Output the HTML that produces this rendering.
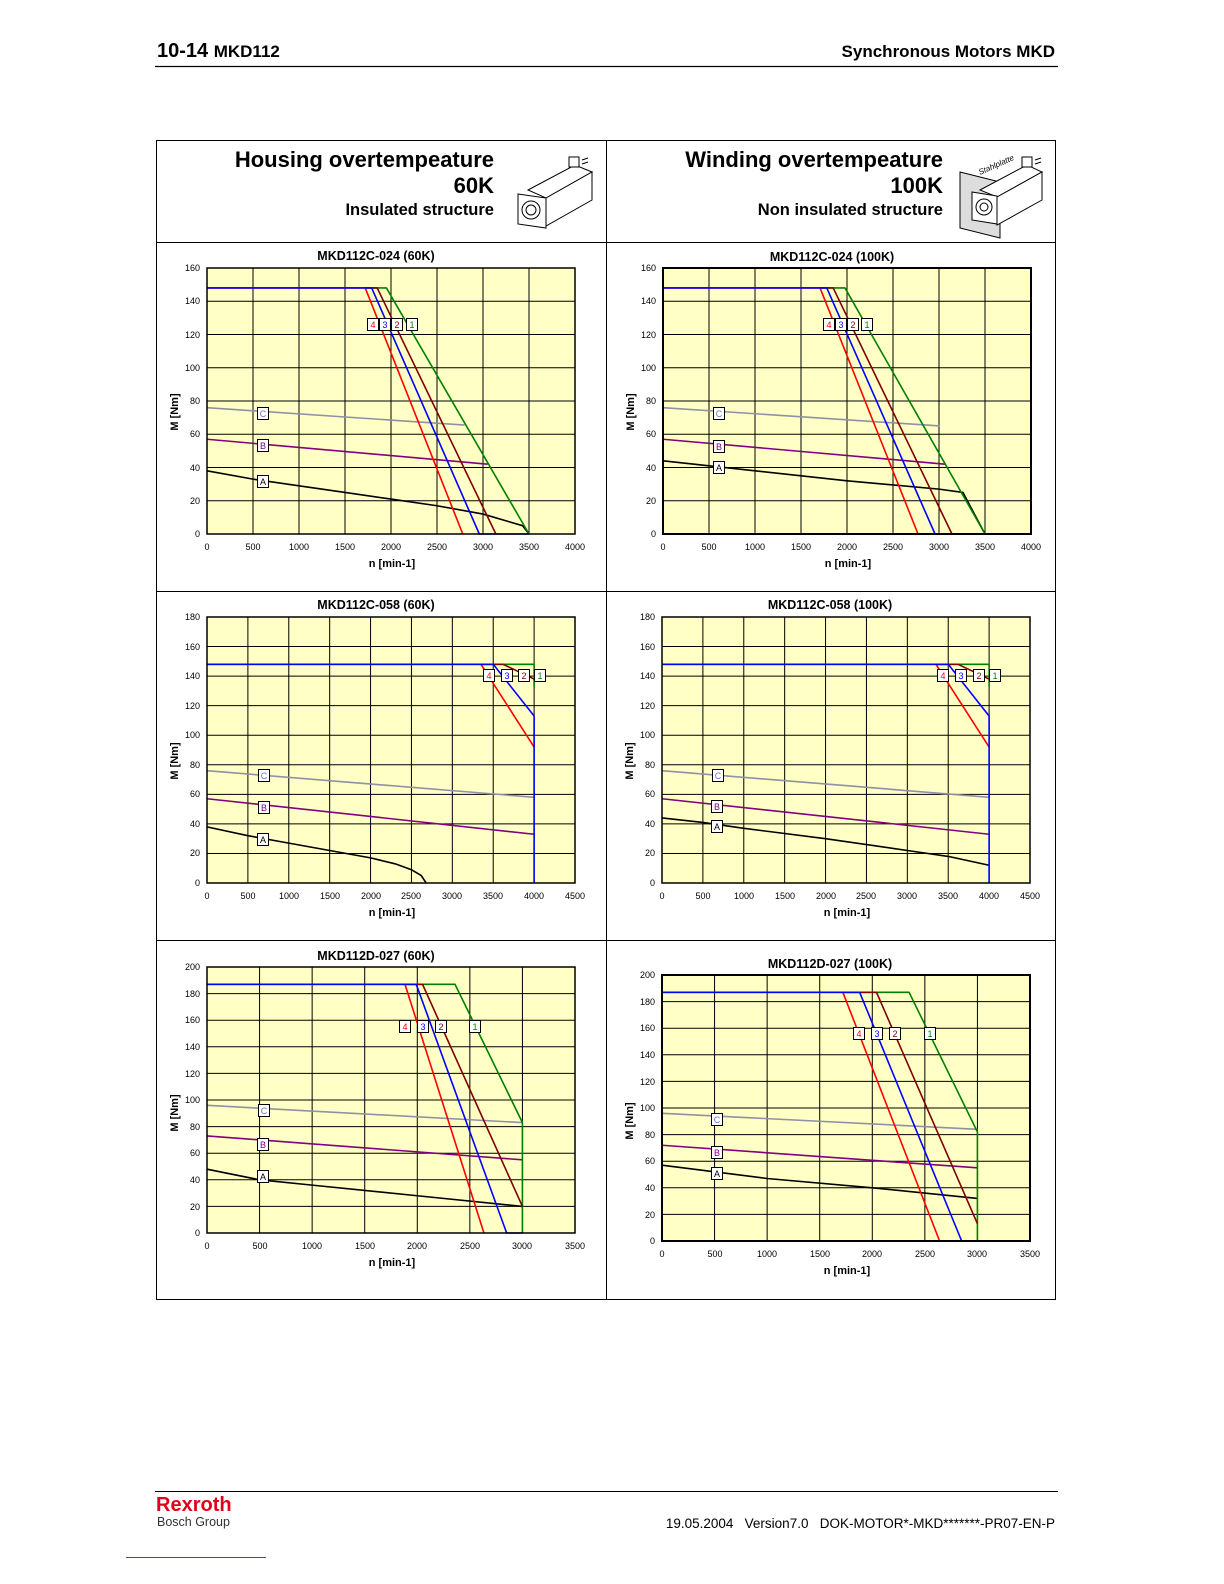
<!DOCTYPE html>
<html><head><meta charset="utf-8">
<style>
html,body{margin:0;padding:0;background:#fff;width:1224px;height:1584px;overflow:hidden;}
svg{display:block;font-family:"Liberation Sans",Arial,sans-serif;}
.tk{font-size:9px;fill:#000;}
.ttl{font-size:12.5px;font-weight:bold;}
.ax{font-size:11px;font-weight:bold;}
.g{fill:none;stroke:#000;stroke-width:1;}
.s{fill:none;stroke-width:1.6;stroke-linejoin:round;}
.lb{font-size:9px;text-anchor:middle;}
</style></head>
<body>
<svg width="1224" height="1584" viewBox="0 0 1224 1584" xmlns="http://www.w3.org/2000/svg">
<rect width="1224" height="1584" fill="#fff"/>
<!-- header -->
<text x="157" y="57" font-size="20" font-weight="bold">10-14 <tspan font-size="17">MKD112</tspan></text>
<text x="1055" y="57" font-size="17" font-weight="bold" text-anchor="end">Synchronous Motors MKD</text>
<line x1="155" y1="66.5" x2="1058" y2="66.5" stroke="#000" stroke-width="1.2"/>
<!-- frame -->
<rect x="156.5" y="140.5" width="899" height="1159" fill="none" stroke="#000" stroke-width="1"/>
<line x1="606.5" y1="140" x2="606.5" y2="1300" stroke="#000"/>
<line x1="156" y1="242.5" x2="1056" y2="242.5" stroke="#000"/>
<line x1="156" y1="591.5" x2="1056" y2="591.5" stroke="#000"/>
<line x1="156" y1="940.5" x2="1056" y2="940.5" stroke="#000"/>
<!-- header texts -->
<text x="494" y="167" font-size="22" font-weight="bold" text-anchor="end">Housing overtempeature</text>
<text x="494" y="193" font-size="22" font-weight="bold" text-anchor="end">60K</text>
<text x="494" y="215" font-size="16.5" font-weight="bold" text-anchor="end">Insulated structure</text>
<text x="943" y="167" font-size="22" font-weight="bold" text-anchor="end">Winding overtempeature</text>
<text x="943" y="193" font-size="22" font-weight="bold" text-anchor="end">100K</text>
<text x="943" y="215" font-size="16.5" font-weight="bold" text-anchor="end">Non insulated structure</text>
<!-- motor icon 1 -->
<g fill="#fff" stroke="#000" stroke-width="1">
<path d="M528 190 L575 165 L592 172 L546 198 Z"/>
<path d="M546 198 L592 172 L592 200 L546 226 Z"/>
<path d="M518 194 L546 198 L546 228 L518 224 Z"/>
<circle cx="531" cy="210" r="9"/><circle cx="531" cy="210" r="5"/>
<rect x="569" y="157" width="10" height="10"/>
<line x1="582" y1="160" x2="588" y2="158"/><line x1="582" y1="164" x2="588" y2="162"/>
</g>
<!-- motor icon 2 -->
<g fill="#fff" stroke="#000" stroke-width="1">
<path d="M960 172 L1000 182 L1000 238 L960 228 Z" fill="#ddd"/>
<path d="M980 190 L1027 165 L1042 172 L997 197 Z"/>
<path d="M997 197 L1042 172 L1042 200 L997 225 Z"/>
<path d="M972 192 L997 196 L997 224 L972 220 Z"/>
<circle cx="984" cy="207" r="8"/><circle cx="984" cy="207" r="4"/>
<rect x="1022" y="157" width="10" height="10"/>
<line x1="1035" y1="160" x2="1041" y2="158"/><line x1="1035" y1="164" x2="1041" y2="162"/>
</g>
<text x="980" y="175" font-size="8" font-style="italic" transform="rotate(-24 980 175)">Stahlplatte</text>

<!-- ============ CHART 1 ============ -->
<text class="ttl" x="376" y="260" text-anchor="middle">MKD112C-024 (60K)</text>
<svg x="207" y="268" width="368" height="266" viewBox="0 -160 4000 160" preserveAspectRatio="none" overflow="visible">
<rect x="0" y="-160" width="4000" height="160" fill="#ffffc6"/>
<path class="g" vector-effect="non-scaling-stroke" d="M500 -160V0M1000 -160V0M1500 -160V0M2000 -160V0M2500 -160V0M3000 -160V0M3500 -160V0M0 -20H4000M0 -40H4000M0 -60H4000M0 -80H4000M0 -100H4000M0 -120H4000M0 -140H4000"/>
<polyline class="s" vector-effect="non-scaling-stroke" stroke="#9090a8" points="0,-76 2800,-65.5"/>
<polyline class="s" vector-effect="non-scaling-stroke" stroke="#800080" points="0,-57 3050,-42"/>
<polyline class="s" vector-effect="non-scaling-stroke" stroke="#000" points="0,-38 500,-33 1000,-29 1500,-25 2000,-21 2500,-17 3000,-12 3430,-5 3500,0"/>
<polyline class="s" vector-effect="non-scaling-stroke" stroke="#008000" points="1720,-148 1950,-148 3500,0"/>
<polyline class="s" vector-effect="non-scaling-stroke" stroke="#800000" points="1720,-148 1850,-148 3140,0"/>
<polyline class="s" vector-effect="non-scaling-stroke" stroke="#ff0000" points="0,-148 1720,-148 2780,0"/>
<polyline class="s" vector-effect="non-scaling-stroke" stroke="#0000ff" points="0,-148 1790,-148 2960,0 3500,0"/>
<rect x="0" y="-160" width="4000" height="160" fill="none" stroke="#000" stroke-width="1.5" vector-effect="non-scaling-stroke"/>
</svg>
<g class="tk" text-anchor="end">
<text x="200" y="537">0</text><text x="200" y="504">20</text><text x="200" y="471">40</text><text x="200" y="437">60</text><text x="200" y="404">80</text><text x="200" y="371">100</text><text x="200" y="338">120</text><text x="200" y="304">140</text><text x="200" y="271">160</text>
</g>
<g class="tk" text-anchor="middle">
<text x="207" y="550">0</text><text x="253" y="550">500</text><text x="299" y="550">1000</text><text x="345" y="550">1500</text><text x="391" y="550">2000</text><text x="437" y="550">2500</text><text x="483" y="550">3000</text><text x="529" y="550">3500</text><text x="575" y="550">4000</text>
</g>
<text class="ax" x="392" y="567" text-anchor="middle">n [min-1]</text>
<text class="ax" x="178" y="412" text-anchor="middle" transform="rotate(-90 178 412)">M [Nm]</text>
<g stroke="#000" fill="#fff"><rect x="367.5" y="318.5" width="11" height="12"/><rect x="379.5" y="318.5" width="11" height="12"/><rect x="391.5" y="318.5" width="11" height="12"/><rect x="406.5" y="318.5" width="11" height="12"/><rect x="257.5" y="407.5" width="11" height="12"/><rect x="257.5" y="439.5" width="11" height="12"/><rect x="257.5" y="475.5" width="11" height="12"/></g>
<g class="lb"><text x="373" y="328" fill="#f00">4</text><text x="385" y="328" fill="#00f">3</text><text x="397" y="328" fill="#800000">2</text><text x="412" y="328" fill="#008000">1</text><text x="263" y="417" fill="#7070c0">C</text><text x="263" y="449" fill="#800080">B</text><text x="263" y="485">A</text></g>

<!-- ============ CHART 2 ============ -->
<text class="ttl" x="832" y="261" text-anchor="middle">MKD112C-024 (100K)</text>
<svg x="663" y="268" width="368" height="266" viewBox="0 -160 4000 160" preserveAspectRatio="none" overflow="visible">
<rect x="0" y="-160" width="4000" height="160" fill="#ffffc6"/>
<path class="g" vector-effect="non-scaling-stroke" d="M500 -160V0M1000 -160V0M1500 -160V0M2000 -160V0M2500 -160V0M3000 -160V0M3500 -160V0M0 -20H4000M0 -40H4000M0 -60H4000M0 -80H4000M0 -100H4000M0 -120H4000M0 -140H4000"/>
<polyline class="s" vector-effect="non-scaling-stroke" stroke="#9090a8" points="0,-76 3010,-65"/>
<polyline class="s" vector-effect="non-scaling-stroke" stroke="#800080" points="0,-57 3065,-42"/>
<polyline class="s" vector-effect="non-scaling-stroke" stroke="#000" points="0,-44 1000,-38 2000,-32 3000,-27 3260,-25 3500,0"/>
<polyline class="s" vector-effect="non-scaling-stroke" stroke="#008000" points="1700,-148 1978,-148 3500,0"/>
<polyline class="s" vector-effect="non-scaling-stroke" stroke="#800000" points="1700,-148 1850,-148 3141,0"/>
<polyline class="s" vector-effect="non-scaling-stroke" stroke="#ff0000" points="0,-148 1707,-148 2772,0"/>
<polyline class="s" vector-effect="non-scaling-stroke" stroke="#0000ff" points="0,-148 1780,-148 2957,0 3500,0"/>
<rect x="0" y="-160" width="4000" height="160" fill="none" stroke="#000" stroke-width="2" vector-effect="non-scaling-stroke"/>
</svg>
<g class="tk" text-anchor="end">
<text x="656" y="537">0</text><text x="656" y="504">20</text><text x="656" y="471">40</text><text x="656" y="437">60</text><text x="656" y="404">80</text><text x="656" y="371">100</text><text x="656" y="338">120</text><text x="656" y="304">140</text><text x="656" y="271">160</text>
</g>
<g class="tk" text-anchor="middle">
<text x="663" y="550">0</text><text x="709" y="550">500</text><text x="755" y="550">1000</text><text x="801" y="550">1500</text><text x="847" y="550">2000</text><text x="893" y="550">2500</text><text x="939" y="550">3000</text><text x="985" y="550">3500</text><text x="1031" y="550">4000</text>
</g>
<text class="ax" x="848" y="567" text-anchor="middle">n [min-1]</text>
<text class="ax" x="634" y="412" text-anchor="middle" transform="rotate(-90 634 412)">M [Nm]</text>
<g stroke="#000" fill="#fff"><rect x="823.5" y="318.5" width="11" height="12"/><rect x="835.5" y="318.5" width="11" height="12"/><rect x="847.5" y="318.5" width="11" height="12"/><rect x="861.5" y="318.5" width="11" height="12"/><rect x="713.5" y="407.5" width="11" height="12"/><rect x="713.5" y="440.5" width="11" height="12"/><rect x="713.5" y="461.5" width="11" height="12"/></g>
<g class="lb"><text x="829" y="328" fill="#f00">4</text><text x="841" y="328" fill="#00f">3</text><text x="853" y="328" fill="#800000">2</text><text x="867" y="328" fill="#008000">1</text><text x="719" y="417" fill="#7070c0">C</text><text x="719" y="450" fill="#800080">B</text><text x="719" y="471">A</text></g>

<!-- ============ CHART 3 ============ -->
<text class="ttl" x="376" y="609" text-anchor="middle">MKD112C-058 (60K)</text>
<svg x="207" y="617" width="368" height="266" viewBox="0 -180 4500 180" preserveAspectRatio="none" overflow="visible">
<rect x="0" y="-180" width="4500" height="180" fill="#ffffc6"/>
<path class="g" vector-effect="non-scaling-stroke" d="M500 -180V0M1000 -180V0M1500 -180V0M2000 -180V0M2500 -180V0M3000 -180V0M3500 -180V0M4000 -180V0M0 -20H4500M0 -40H4500M0 -60H4500M0 -80H4500M0 -100H4500M0 -120H4500M0 -140H4500M0 -160H4500"/>
<polyline class="s" vector-effect="non-scaling-stroke" stroke="#9090a8" points="0,-76 4000,-58"/>
<polyline class="s" vector-effect="non-scaling-stroke" stroke="#800080" points="0,-57 4000,-33"/>
<polyline class="s" vector-effect="non-scaling-stroke" stroke="#000" points="0,-38 500,-32 1000,-27 1500,-22 2000,-17 2300,-13 2500,-9 2620,-5 2680,0"/>
<polyline class="s" vector-effect="non-scaling-stroke" stroke="#008000" points="3350,-148 4000,-148 4000,-133"/>
<polyline class="s" vector-effect="non-scaling-stroke" stroke="#800000" points="3350,-148 3620,-148 4000,-138"/>
<polyline class="s" vector-effect="non-scaling-stroke" stroke="#ff0000" points="0,-148 3350,-148 4000,-92"/>
<polyline class="s" vector-effect="non-scaling-stroke" stroke="#0000ff" points="0,-148 3500,-148 4000,-113 4000,0"/>
<rect x="0" y="-180" width="4500" height="180" fill="none" stroke="#000" stroke-width="1.5" vector-effect="non-scaling-stroke"/>
</svg>
<g class="tk" text-anchor="end">
<text x="200" y="886">0</text><text x="200" y="856">20</text><text x="200" y="827">40</text><text x="200" y="797">60</text><text x="200" y="768">80</text><text x="200" y="738">100</text><text x="200" y="709">120</text><text x="200" y="679">140</text><text x="200" y="650">160</text><text x="200" y="620">180</text>
</g>
<g class="tk" text-anchor="middle">
<text x="207" y="899">0</text><text x="248" y="899">500</text><text x="289" y="899">1000</text><text x="330" y="899">1500</text><text x="371" y="899">2000</text><text x="411" y="899">2500</text><text x="452" y="899">3000</text><text x="493" y="899">3500</text><text x="534" y="899">4000</text><text x="575" y="899">4500</text>
</g>
<text class="ax" x="392" y="916" text-anchor="middle">n [min-1]</text>
<text class="ax" x="178" y="761" text-anchor="middle" transform="rotate(-90 178 761)">M [Nm]</text>
<g stroke="#000" fill="#fff"><rect x="483.5" y="669.5" width="11" height="12"/><rect x="501.5" y="669.5" width="11" height="12"/><rect x="518.5" y="669.5" width="11" height="12"/><rect x="534.5" y="669.5" width="11" height="12"/><rect x="258.5" y="769.5" width="11" height="12"/><rect x="258.5" y="801.5" width="11" height="12"/><rect x="257.5" y="833.5" width="11" height="12"/></g>
<g class="lb"><text x="489" y="679" fill="#f00">4</text><text x="507" y="679" fill="#00f">3</text><text x="524" y="679" fill="#800000">2</text><text x="540" y="679" fill="#008000">1</text><text x="264" y="779" fill="#7070c0">C</text><text x="264" y="811" fill="#800080">B</text><text x="263" y="843">A</text></g>

<!-- ============ CHART 4 ============ -->
<text class="ttl" x="830" y="609" text-anchor="middle">MKD112C-058 (100K)</text>
<svg x="662" y="617" width="368" height="266" viewBox="0 -180 4500 180" preserveAspectRatio="none" overflow="visible">
<rect x="0" y="-180" width="4500" height="180" fill="#ffffc6"/>
<path class="g" vector-effect="non-scaling-stroke" d="M500 -180V0M1000 -180V0M1500 -180V0M2000 -180V0M2500 -180V0M3000 -180V0M3500 -180V0M4000 -180V0M0 -20H4500M0 -40H4500M0 -60H4500M0 -80H4500M0 -100H4500M0 -120H4500M0 -140H4500M0 -160H4500"/>
<polyline class="s" vector-effect="non-scaling-stroke" stroke="#9090a8" points="0,-76 4000,-58"/>
<polyline class="s" vector-effect="non-scaling-stroke" stroke="#800080" points="0,-57 4000,-33"/>
<polyline class="s" vector-effect="non-scaling-stroke" stroke="#000" points="0,-44 500,-41 1000,-37 2000,-30 3000,-22 3500,-18 4000,-12"/>
<polyline class="s" vector-effect="non-scaling-stroke" stroke="#008000" points="3350,-148 4000,-148 4000,-133"/>
<polyline class="s" vector-effect="non-scaling-stroke" stroke="#800000" points="3350,-148 3620,-148 4000,-138"/>
<polyline class="s" vector-effect="non-scaling-stroke" stroke="#ff0000" points="0,-148 3350,-148 4000,-92"/>
<polyline class="s" vector-effect="non-scaling-stroke" stroke="#0000ff" points="0,-148 3500,-148 4000,-113 4000,0"/>
<rect x="0" y="-180" width="4500" height="180" fill="none" stroke="#000" stroke-width="1.5" vector-effect="non-scaling-stroke"/>
</svg>
<g class="tk" text-anchor="end">
<text x="655" y="886">0</text><text x="655" y="856">20</text><text x="655" y="827">40</text><text x="655" y="797">60</text><text x="655" y="768">80</text><text x="655" y="738">100</text><text x="655" y="709">120</text><text x="655" y="679">140</text><text x="655" y="650">160</text><text x="655" y="620">180</text>
</g>
<g class="tk" text-anchor="middle">
<text x="662" y="899">0</text><text x="703" y="899">500</text><text x="744" y="899">1000</text><text x="785" y="899">1500</text><text x="826" y="899">2000</text><text x="866" y="899">2500</text><text x="907" y="899">3000</text><text x="948" y="899">3500</text><text x="989" y="899">4000</text><text x="1030" y="899">4500</text>
</g>
<text class="ax" x="847" y="916" text-anchor="middle">n [min-1]</text>
<text class="ax" x="633" y="761" text-anchor="middle" transform="rotate(-90 633 761)">M [Nm]</text>
<g stroke="#000" fill="#fff"><rect x="937.5" y="669.5" width="11" height="12"/><rect x="955.5" y="669.5" width="11" height="12"/><rect x="973.5" y="669.5" width="11" height="12"/><rect x="989.5" y="669.5" width="11" height="12"/><rect x="712.5" y="769.5" width="11" height="12"/><rect x="711.5" y="800.5" width="11" height="12"/><rect x="711.5" y="820.5" width="11" height="12"/></g>
<g class="lb"><text x="943" y="679" fill="#f00">4</text><text x="961" y="679" fill="#00f">3</text><text x="979" y="679" fill="#800000">2</text><text x="995" y="679" fill="#008000">1</text><text x="718" y="779" fill="#7070c0">C</text><text x="717" y="810" fill="#800080">B</text><text x="717" y="830">A</text></g>

<!-- ============ CHART 5 ============ -->
<text class="ttl" x="376" y="960" text-anchor="middle">MKD112D-027 (60K)</text>
<svg x="207" y="967" width="368" height="266" viewBox="0 -200 3500 200" preserveAspectRatio="none" overflow="visible">
<rect x="0" y="-200" width="3500" height="200" fill="#ffffc6"/>
<path class="g" vector-effect="non-scaling-stroke" d="M500 -200V0M1000 -200V0M1500 -200V0M2000 -200V0M2500 -200V0M3000 -200V0M0 -20H3500M0 -40H3500M0 -60H3500M0 -80H3500M0 -100H3500M0 -120H3500M0 -140H3500M0 -160H3500M0 -180H3500"/>
<polyline class="s" vector-effect="non-scaling-stroke" stroke="#9090a8" points="0,-96 3000,-83"/>
<polyline class="s" vector-effect="non-scaling-stroke" stroke="#800080" points="0,-73 3000,-55"/>
<polyline class="s" vector-effect="non-scaling-stroke" stroke="#000" points="0,-48 500,-40 1000,-36 2000,-28 3000,-20"/>
<polyline class="s" vector-effect="non-scaling-stroke" stroke="#008000" points="1880,-187 2359,-187 3000,-83 3000,0"/>
<polyline class="s" vector-effect="non-scaling-stroke" stroke="#800000" points="1880,-187 2050,-187 3000,-20"/>
<polyline class="s" vector-effect="non-scaling-stroke" stroke="#ff0000" points="0,-187 1883,-187 2634,0"/>
<polyline class="s" vector-effect="non-scaling-stroke" stroke="#0000ff" points="0,-187 1990,-187 2850,0 3000,0"/>
<rect x="0" y="-200" width="3500" height="200" fill="none" stroke="#000" stroke-width="1.5" vector-effect="non-scaling-stroke"/>
</svg>
<g class="tk" text-anchor="end">
<text x="200" y="1236">0</text><text x="200" y="1210">20</text><text x="200" y="1183">40</text><text x="200" y="1156">60</text><text x="200" y="1130">80</text><text x="200" y="1103">100</text><text x="200" y="1077">120</text><text x="200" y="1050">140</text><text x="200" y="1023">160</text><text x="200" y="997">180</text><text x="200" y="970">200</text>
</g>
<g class="tk" text-anchor="middle">
<text x="207" y="1249">0</text><text x="260" y="1249">500</text><text x="312" y="1249">1000</text><text x="365" y="1249">1500</text><text x="417" y="1249">2000</text><text x="470" y="1249">2500</text><text x="522" y="1249">3000</text><text x="575" y="1249">3500</text>
</g>
<text class="ax" x="392" y="1266" text-anchor="middle">n [min-1]</text>
<text class="ax" x="178" y="1113" text-anchor="middle" transform="rotate(-90 178 1113)">M [Nm]</text>
<g stroke="#000" fill="#fff"><rect x="399.5" y="1020.5" width="11" height="12"/><rect x="417.5" y="1020.5" width="11" height="12"/><rect x="435.5" y="1020.5" width="11" height="12"/><rect x="469.5" y="1020.5" width="11" height="12"/><rect x="258.5" y="1104.5" width="11" height="12"/><rect x="257.5" y="1138.5" width="11" height="12"/><rect x="257.5" y="1170.5" width="11" height="12"/></g>
<g class="lb"><text x="405" y="1030" fill="#f00">4</text><text x="423" y="1030" fill="#00f">3</text><text x="441" y="1030" fill="#800000">2</text><text x="475" y="1030" fill="#008000">1</text><text x="264" y="1114" fill="#7070c0">C</text><text x="263" y="1148" fill="#800080">B</text><text x="263" y="1180">A</text></g>

<!-- ============ CHART 6 ============ -->
<text class="ttl" x="830" y="968" text-anchor="middle">MKD112D-027 (100K)</text>
<svg x="662" y="975" width="368" height="266" viewBox="0 -200 3500 200" preserveAspectRatio="none" overflow="visible">
<rect x="0" y="-200" width="3500" height="200" fill="#ffffc6"/>
<path class="g" vector-effect="non-scaling-stroke" d="M500 -200V0M1000 -200V0M1500 -200V0M2000 -200V0M2500 -200V0M3000 -200V0M0 -20H3500M0 -40H3500M0 -60H3500M0 -80H3500M0 -100H3500M0 -120H3500M0 -140H3500M0 -160H3500M0 -180H3500"/>
<polyline class="s" vector-effect="non-scaling-stroke" stroke="#9090a8" points="0,-96 3000,-84"/>
<polyline class="s" vector-effect="non-scaling-stroke" stroke="#800080" points="0,-72 3000,-55"/>
<polyline class="s" vector-effect="non-scaling-stroke" stroke="#000" points="0,-57 500,-52 1000,-47 2000,-40 3000,-32"/>
<polyline class="s" vector-effect="non-scaling-stroke" stroke="#008000" points="1720,-187 2350,-187 3000,-82 3000,0"/>
<polyline class="s" vector-effect="non-scaling-stroke" stroke="#800000" points="1720,-187 2040,-187 3000,-13"/>
<polyline class="s" vector-effect="non-scaling-stroke" stroke="#ff0000" points="0,-187 1720,-187 2640,0"/>
<polyline class="s" vector-effect="non-scaling-stroke" stroke="#0000ff" points="0,-187 1880,-187 2850,0 3000,0"/>
<rect x="0" y="-200" width="3500" height="200" fill="none" stroke="#000" stroke-width="2" vector-effect="non-scaling-stroke"/>
</svg>
<g class="tk" text-anchor="end">
<text x="655" y="1244">0</text><text x="655" y="1218">20</text><text x="655" y="1191">40</text><text x="655" y="1164">60</text><text x="655" y="1138">80</text><text x="655" y="1111">100</text><text x="655" y="1085">120</text><text x="655" y="1058">140</text><text x="655" y="1031">160</text><text x="655" y="1005">180</text><text x="655" y="978">200</text>
</g>
<g class="tk" text-anchor="middle">
<text x="662" y="1257">0</text><text x="715" y="1257">500</text><text x="767" y="1257">1000</text><text x="820" y="1257">1500</text><text x="872" y="1257">2000</text><text x="925" y="1257">2500</text><text x="977" y="1257">3000</text><text x="1030" y="1257">3500</text>
</g>
<text class="ax" x="847" y="1274" text-anchor="middle">n [min-1]</text>
<text class="ax" x="633" y="1121" text-anchor="middle" transform="rotate(-90 633 1121)">M [Nm]</text>
<g stroke="#000" fill="#fff"><rect x="853.5" y="1027.5" width="11" height="12"/><rect x="871.5" y="1027.5" width="11" height="12"/><rect x="889.5" y="1027.5" width="11" height="12"/><rect x="924.5" y="1027.5" width="11" height="12"/><rect x="711.5" y="1113.5" width="11" height="12"/><rect x="711.5" y="1146.5" width="11" height="12"/><rect x="711.5" y="1167.5" width="11" height="12"/></g>
<g class="lb"><text x="859" y="1037" fill="#f00">4</text><text x="877" y="1037" fill="#00f">3</text><text x="895" y="1037" fill="#800000">2</text><text x="930" y="1037" fill="#008000">1</text><text x="717" y="1123" fill="#7070c0">C</text><text x="717" y="1156" fill="#800080">B</text><text x="717" y="1177">A</text></g>

<!-- footer -->
<line x1="155" y1="1491.5" x2="1058" y2="1491.5" stroke="#000" stroke-width="1"/>
<text x="156" y="1511" font-size="20" font-weight="bold" fill="#e2001a">Rexroth</text>
<text x="157" y="1526" font-size="12.5" fill="#333">Bosch Group</text>
<text x="1055" y="1528" font-size="13.5" text-anchor="end" style="white-space:pre">19.05.2004   Version7.0   DOK-MOTOR*-MKD*******-PR07-EN-P</text>
<line x1="126" y1="1557.5" x2="266" y2="1557.5" stroke="#3050c0" stroke-width="1"/>
</svg>
</body></html>
